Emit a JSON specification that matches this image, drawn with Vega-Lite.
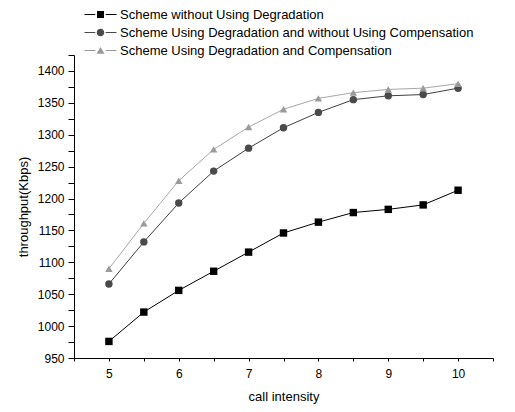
{
  "$schema": "https://vega.github.io/schema/vega-lite/v6.json",
  "width": 419,
  "height": 303,
  "autosize": {"type": "none"},
  "padding": {"left": 74, "top": 55, "right": 22, "bottom": 54},
  "config": {
    "view": {"stroke": null},
    "font": "Liberation Sans",
    "axis": {
      "grid": false,
      "domainColor": "#000",
      "tickColor": "#000",
      "labelColor": "#000",
      "titleColor": "#000",
      "labelFont": "Liberation Sans",
      "titleFont": "Liberation Sans",
      "labelFontSize": 12,
      "titleFontSize": 13,
      "titleFontWeight": "normal"
    },
    "legend": {
      "labelFont": "Liberation Sans",
      "labelFontSize": 13,
      "labelColor": "#000"
    }
  },
  "data": {
    "values": [
      {"series": "Scheme without Using Degradation", "x": 5, "y": 976},
      {"series": "Scheme without Using Degradation", "x": 5.5, "y": 1022},
      {"series": "Scheme without Using Degradation", "x": 6, "y": 1056},
      {"series": "Scheme without Using Degradation", "x": 6.5, "y": 1086},
      {"series": "Scheme without Using Degradation", "x": 7, "y": 1116},
      {"series": "Scheme without Using Degradation", "x": 7.5, "y": 1146},
      {"series": "Scheme without Using Degradation", "x": 8, "y": 1163},
      {"series": "Scheme without Using Degradation", "x": 8.5, "y": 1178},
      {"series": "Scheme without Using Degradation", "x": 9, "y": 1183},
      {"series": "Scheme without Using Degradation", "x": 9.5, "y": 1190},
      {"series": "Scheme without Using Degradation", "x": 10, "y": 1213},
      {"series": "Scheme Using Degradation and without Using Compensation", "x": 5, "y": 1066},
      {"series": "Scheme Using Degradation and without Using Compensation", "x": 5.5, "y": 1132},
      {"series": "Scheme Using Degradation and without Using Compensation", "x": 6, "y": 1193},
      {"series": "Scheme Using Degradation and without Using Compensation", "x": 6.5, "y": 1243},
      {"series": "Scheme Using Degradation and without Using Compensation", "x": 7, "y": 1279},
      {"series": "Scheme Using Degradation and without Using Compensation", "x": 7.5, "y": 1311},
      {"series": "Scheme Using Degradation and without Using Compensation", "x": 8, "y": 1335},
      {"series": "Scheme Using Degradation and without Using Compensation", "x": 8.5, "y": 1355},
      {"series": "Scheme Using Degradation and without Using Compensation", "x": 9, "y": 1361},
      {"series": "Scheme Using Degradation and without Using Compensation", "x": 9.5, "y": 1363},
      {"series": "Scheme Using Degradation and without Using Compensation", "x": 10, "y": 1373},
      {"series": "Scheme Using Degradation and Compensation", "x": 5, "y": 1090},
      {"series": "Scheme Using Degradation and Compensation", "x": 5.5, "y": 1161},
      {"series": "Scheme Using Degradation and Compensation", "x": 6, "y": 1228},
      {"series": "Scheme Using Degradation and Compensation", "x": 6.5, "y": 1277},
      {"series": "Scheme Using Degradation and Compensation", "x": 7, "y": 1312},
      {"series": "Scheme Using Degradation and Compensation", "x": 7.5, "y": 1340},
      {"series": "Scheme Using Degradation and Compensation", "x": 8, "y": 1357},
      {"series": "Scheme Using Degradation and Compensation", "x": 8.5, "y": 1366},
      {"series": "Scheme Using Degradation and Compensation", "x": 9, "y": 1371},
      {"series": "Scheme Using Degradation and Compensation", "x": 9.5, "y": 1373},
      {"series": "Scheme Using Degradation and Compensation", "x": 10, "y": 1380}
    ]
  },
  "encoding": {
    "x": {
      "field": "x",
      "type": "quantitative",
      "scale": {"domain": [4.5, 10.5], "nice": false, "zero": false},
      "axis": {
        "title": "call intensity",
        "values": [4.5, 5, 5.5, 6, 6.5, 7, 7.5, 8, 8.5, 9, 9.5, 10, 10.5],
        "labelExpr": "datum.value % 1 === 0 ? '' + datum.value : ''",
        "tickSize": 3,
        "labelPadding": 7,
        "titlePadding": 11,
        "labelFlush": false,
        "labelOverlap": false
      }
    },
    "y": {
      "field": "y",
      "type": "quantitative",
      "scale": {"domain": [950, 1425], "nice": false, "zero": false},
      "axis": {
        "title": "throughput(Kbps)",
        "values": [950, 975, 1000, 1025, 1050, 1075, 1100, 1125, 1150, 1175, 1200, 1225, 1250, 1275, 1300, 1325, 1350, 1375, 1400, 1425],
        "labelExpr": "datum.value % 50 === 0 ? '' + datum.value : ''",
        "tickSize": 6,
        "labelPadding": 4,
        "titlePadding": 7,
        "labelFlush": false,
        "labelOverlap": false,
        "encode": {
          "ticks": {
            "update": {"x2": {"signal": "datum.value % 50 === 0 ? -6 : -3"}}
          }
        }
      }
    }
  },
  "layer": [
    {
      "mark": {"type": "line", "strokeWidth": 1},
      "encoding": {
        "color": {
          "field": "series",
          "type": "nominal",
          "scale": {
            "domain": ["Scheme without Using Degradation", "Scheme Using Degradation and without Using Compensation", "Scheme Using Degradation and Compensation"],
            "range": ["#000000", "#404040", "#a6a6a6"]
          },
          "legend": null
        }
      }
    },
    {
      "mark": {"type": "point", "filled": true, "opacity": 1, "size": 55, "strokeWidth": 0},
      "encoding": {
        "shape": {
          "field": "series",
          "type": "nominal",
          "scale": {
            "domain": ["Scheme without Using Degradation", "Scheme Using Degradation and without Using Compensation", "Scheme Using Degradation and Compensation"],
            "range": ["square", "circle", "triangle-up"]
          },
          "legend": null
        },
        "color": {
          "field": "series",
          "type": "nominal",
          "scale": {
            "domain": ["Scheme without Using Degradation", "Scheme Using Degradation and without Using Compensation", "Scheme Using Degradation and Compensation"],
            "range": ["#000000", "#4a4a4a", "#9a9a9a"]
          },
          "legend": null
        }
      }
    },
    {
      "mark": {"type": "point", "filled": true, "opacity": 0, "size": 64, "strokeWidth": 0},
      "encoding": {
        "shape": {
          "field": "series",
          "type": "nominal",
          "scale": {
            "domain": ["Scheme without Using Degradation", "Scheme Using Degradation and without Using Compensation", "Scheme Using Degradation and Compensation"],
            "range": [
              "M-4,-0.125H-1.3V0.125H-4ZM1.3,-0.125H4V0.125H1.3ZM-0.875,-0.875H0.875V0.875H-0.875Z",
              "M-4,-0.125H-1.3V0.125H-4ZM1.3,-0.125H4V0.125H1.3ZM-0.94,0A0.94,0.94,0,1,1,0.94,0A0.94,0.94,0,1,1,-0.94,0Z",
              "M-4,-0.125H-1.3V0.125H-4ZM1.3,-0.125H4V0.125H1.3ZM0,-0.9L1,0.8L-1,0.8Z"
            ]
          },
          "legend": {
            "title": null,
            "orient": "none",
            "legendX": 20,
            "legendY": -47,
            "padding": 0,
            "symbolSize": 64,
            "symbolStrokeWidth": 0,
            "symbolOpacity": 1,
            "labelOffset": 13,
            "rowPadding": 4,
            "labelLimit": 500
          }
        },
        "color": {
          "field": "series",
          "type": "nominal",
          "scale": {
            "domain": ["Scheme without Using Degradation", "Scheme Using Degradation and without Using Compensation", "Scheme Using Degradation and Compensation"],
            "range": ["#000000", "#4a4a4a", "#9a9a9a"]
          },
          "legend": {
            "title": null,
            "orient": "none",
            "legendX": 20,
            "legendY": -47,
            "padding": 0,
            "symbolSize": 64,
            "symbolStrokeWidth": 0,
            "symbolOpacity": 1,
            "labelOffset": 13,
            "rowPadding": 4,
            "labelLimit": 500
          }
        }
      }
    }
  ],
  "resolve": {"scale": {"color": "independent", "shape": "independent"}}
}
